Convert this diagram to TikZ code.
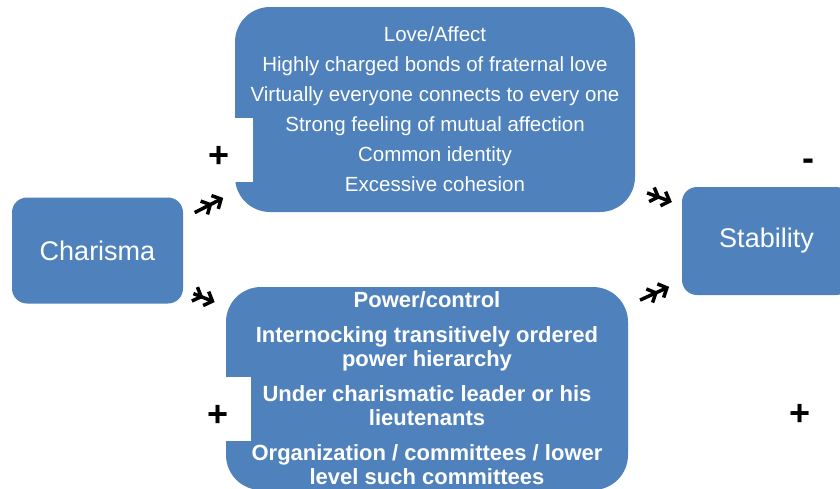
\documentclass[tikz,border=0pt]{standalone}
\usepackage{fontspec}
\setmainfont{Liberation Sans}
\usetikzlibrary{arrows.meta}
\definecolor{boxblue}{HTML}{4F81BD}

\begin{document}
\begin{tikzpicture}[x=1pt,y=-1pt]
  \tikzset{Block/.style={fill=boxblue, text=white, inner sep=0pt, align=center},
    SignStyle/.style={fill=white, text=black, inner sep=0pt, text height=35pt,
      font=\fontsize{36}{36}\selectfont\bfseries},
    ArrowStyle/.style={line width=3.5pt,
      -{Straight Barb[length=7pt,width=15pt,sep=1pt]Straight Barb[length=7pt,width=15pt]}}}
  \useasboundingbox (0,0) rectangle (840,488);
  \clip (0,0) rectangle (840,488);

  % blocks
  \node[Block, rounded corners=15pt, minimum width=171pt, minimum height=106pt,
    font=\fontsize{27}{30}\selectfont] (charisma) at (97.5,250.5) {Charisma};
  \node[Block, rounded corners=15pt, minimum width=169pt, minimum height=108pt,
    font=\fontsize{27}{30}\selectfont] (stability) at (766.5,241) {Stability};
  \node[Block, rounded corners=35pt, minimum width=400pt, minimum height=205pt,
    font=\fontsize{20.5}{30}\selectfont] (love) at (435,109.5)
    {Love/Affect\\ Highly charged bonds of fraternal love\\
     Virtually everyone connects to every one\\ Strong feeling of mutual affection\\
     Common identity\\ Excessive cohesion};
  \node[Block, rounded corners=35pt, minimum width=402pt, minimum height=203pt,
    font=\fontsize{22}{24}\selectfont\bfseries] (power) at (427,388.5)
    {Power/control\\[11pt] Internocking transitively ordered\\ power hierarchy\\[11pt]
     Under charismatic leader or his\\ lieutenants\\[11pt]
     Organization / committees / lower\\ level such committees};

  % signs
  \node[SignStyle, minimum width=68pt, minimum height=64pt] (plusA) at (219,150) {+};
  \node[SignStyle, minimum width=66pt, minimum height=64pt] (plusB) at (218,409) {+};
  \node[SignStyle] (minusC) at (808,153) {-};
  \node[SignStyle] (plusD) at (800,408) {+};

  % arrows
  \draw[ArrowStyle, shorten <=13pt, shorten >=13pt]
    ([yshift=32pt]charisma.east) -- ([yshift=-82.5pt]love.west);
  \draw[ArrowStyle, shorten <=11pt, shorten >=12pt]
    ([yshift=-39pt]charisma.east) -- ([yshift=82pt]power.west);
  \draw[ArrowStyle, shorten <=12.7pt, shorten >=10.6pt]
    ([yshift=-79pt]love.east) -- ([yshift=35.4pt]stability.west);
  \draw[ArrowStyle, shorten <=13pt, shorten >=14pt]
    ([yshift=83pt]power.east) -- ([yshift=-40pt]stability.west);
\end{tikzpicture}
\end{document}
